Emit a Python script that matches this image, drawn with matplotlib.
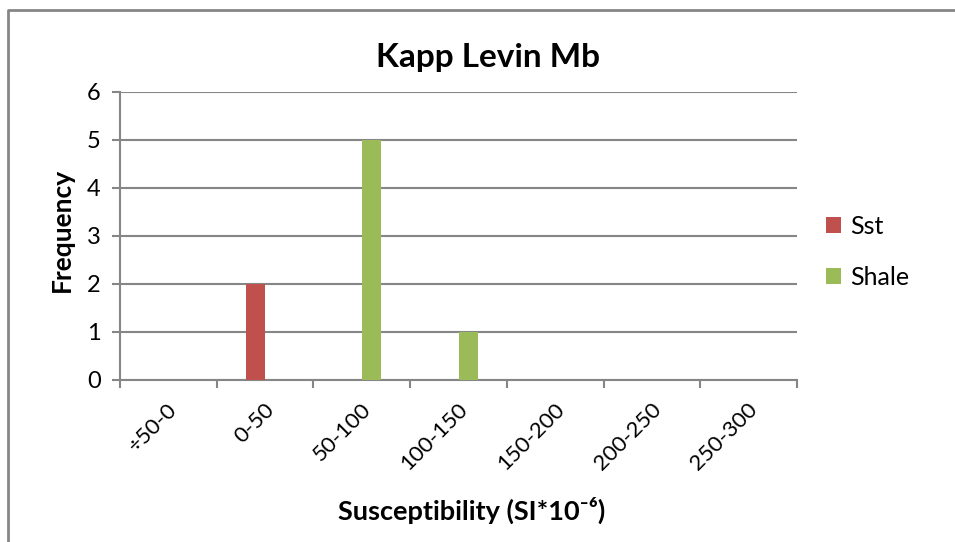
import matplotlib
matplotlib.use("Agg")
import matplotlib.pyplot as plt
import matplotlib.transforms as mtransforms
import numpy as np
from matplotlib.lines import Line2D

# categories and counts
categories = ["÷50-0", "0-50", "50-100", "100-150", "150-200", "200-250", "250-300"]
sst = [0, 2, 0, 0, 0, 0, 0]
shale = [0, 0, 5, 1, 0, 0, 0]

plt.rcParams['font.family'] = ['Lato', 'DejaVu Sans']

GRID = "#868686"
RED = "#C0504D"
GREEN = "#9BBB59"

W, H = 955, 542
fig = plt.figure(figsize=(W / 100, H / 100), dpi=100)
ax = fig.add_axes([120 / W, 1 - 380 / H, 677 / W, 288 / H])

x = np.arange(len(categories))
bw = 0.2
ax.bar(x - bw / 2, sst, width=bw, color=RED, label="Sst", zorder=3)
ax.bar(x + bw / 2, shale, width=bw, color=GREEN, label="Shale", zorder=3)

ax.set_xlim(-0.5, len(categories) - 0.5)
ax.set_ylim(0, 6)
ax.set_yticks(range(7))
ax.yaxis.grid(True, color=GRID, linewidth=1.5, zorder=0)
ax.set_axisbelow(True)

# category labels at centres, tick marks at boundaries
ax.set_xticks(x)
ax.set_xticklabels(categories, rotation=45, ha="right", va="center",
                   rotation_mode="anchor", fontsize=16)
ax.set_xticks(np.arange(-0.5, len(categories)), minor=True)
ax.tick_params(axis="x", which="major", length=0, pad=19)
ax.tick_params(axis="x", which="minor", length=6, width=1.5, color=GRID, direction="out")
ax.tick_params(axis="y", length=6, width=1.5, color=GRID, labelsize=17, pad=8)

# nudge rotated labels right so they end just past the category centre
shift = mtransforms.ScaledTranslation(6 / 100, 0, fig.dpi_scale_trans)
for lab in ax.get_xticklabels():
    lab.set_transform(lab.get_transform() + shift)

for side in ["top", "right"]:
    ax.spines[side].set_visible(False)
for side in ["left", "bottom"]:
    ax.spines[side].set_color(GRID)
    ax.spines[side].set_linewidth(1.5)

ax.set_ylabel("Frequency", fontsize=19, fontweight="bold", va="center")
ax.yaxis.set_label_coords(-0.0857, 0.52)
ax.set_xlabel("Susceptibility (SI*10⁻⁶)", fontsize=19.5, fontweight="bold", va="center")
ax.xaxis.set_label_coords(0.52, -0.451)
fig.text(488 / W, 1 - 57 / H, "Kapp Levin Mb", fontsize=24, fontweight="bold",
         ha="center", va="center")

ax.legend(loc="center left", bbox_to_anchor=(803 / W, 1 - 252 / H),
          bbox_transform=fig.transFigure, frameon=False, fontsize=18,
          handlelength=0.6, handleheight=0.6, handletextpad=0.4, labelspacing=1.1)

# outer chart border (cropped at right and bottom)
fig.add_artist(Line2D([7.5 / W, 7.5 / W, 1.0], [0.0, 1 - 9.5 / H, 1 - 9.5 / H],
                      transform=fig.transFigure, color=GRID, linewidth=2))

fig.savefig("out.png", dpi=100)
